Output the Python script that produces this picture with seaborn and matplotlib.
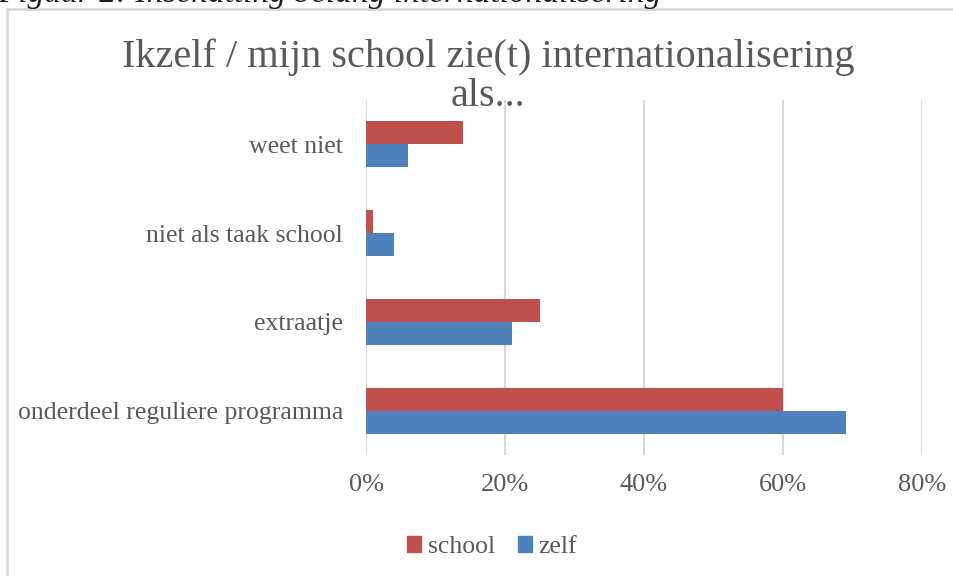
import numpy as np
import pandas as pd
import seaborn as sns
import matplotlib.pyplot as plt
from matplotlib.patches import Rectangle
from matplotlib.ticker import FuncFormatter

sns.set_theme(style="white")
plt.rcParams['font.family'] = ['Liberation Serif', 'DejaVu Serif']

categories = ["weet niet", "niet als taak school", "extraatje", "onderdeel reguliere programma"]
school = [14, 1, 25, 60]
zelf = [6, 4, 21, 69]
series = ["school", "zelf"]
colors = {"school": "#C0504D", "zelf": "#4F81BD"}
xticks = [0, 20, 40, 60, 80]

data = pd.DataFrame({
    "categorie": categories * 2,
    "reeks": ["school"] * len(categories) + ["zelf"] * len(categories),
    "waarde": school + zelf,
})

fig = plt.figure(figsize=(9.54, 5.76), dpi=100)
ax = fig.add_axes([366 / 954, 1 - 455 / 576, (922 - 366) / 954, (455 - 100) / 576])

sns.barplot(data=data, y="categorie", x="waarde", hue="reeks", order=categories,
            hue_order=series, palette=colors, orient="h", width=0.52, gap=0,
            ax=ax, legend=False, saturation=1, linewidth=0)

ax.set_xlim(0, 80)
ax.set_xticks(xticks)
ax.xaxis.set_major_formatter(FuncFormatter(lambda v, p: f"{v:.0f}%"))
ax.grid(True, axis="x", color="#D9D9D9", linewidth=1.5)
ax.set_axisbelow(True)
for s in ax.spines.values():
    s.set_visible(False)
ax.set_xlabel("")
ax.set_ylabel("")
ax.tick_params(axis="x", colors="#595959", labelsize=19, pad=14, length=0)
ax.tick_params(axis="y", colors="#595959", labelsize=18.5, pad=16.5, length=0)

# chart frame and cut-off caption
fig.patches.append(Rectangle((7 / 954, -0.1), 1.1, 1 - 9 / 576 + 0.1, transform=fig.transFigure,
                             fill=False, edgecolor="#D9D9D9", linewidth=2))
fig.text(-2 / 954, 1 - 2 / 576, "Figuur 2: Inschatting belang internationalisering",
         fontsize=24, style="italic", color="#1F1F1F", va="baseline", ha="left")

fig.text(488 / 954, 1 - 57 / 576, "Ikzelf / mijn school zie(t) internationalisering",
         fontsize=29, color="#595959", ha="center", va="center")
fig.text(488 / 954, 1 - 97 / 576, "als...",
         fontsize=29, color="#595959", ha="center", va="center")

handles = [Rectangle((0, 0), 1, 1, color=colors[s]) for s in series]
fig.legend(handles, series, loc="center", bbox_to_anchor=(492 / 954, 1 - 547 / 576),
           ncol=2, frameon=False, fontsize=18.5, handlelength=0.55, handleheight=0.55,
           handletextpad=0.25, columnspacing=0.9, labelcolor="#595959")

fig.savefig("out.png", dpi=100)
